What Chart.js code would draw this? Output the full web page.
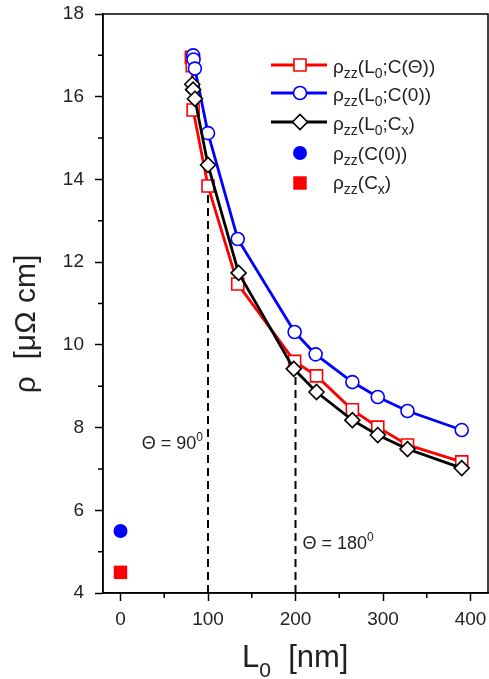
<!DOCTYPE html>
<html>
<head>
<meta charset="utf-8">
<script src="https://cdn.jsdelivr.net/npm/chart.js@4"></script>
<style>
  html, body { margin: 0; padding: 0; background: #fff; }
  #wrap { width: 489px; height: 679px; }
</style>
</head>
<body>
<div id="wrap"><canvas id="chart" width="489" height="679"></canvas></div>
<script>
/* =====================
   DATA
===================== */
// rho_zz(L0;C(Theta)) - red open squares
const redX = [81, 82, 83, 100, 134, 199, 224, 265, 294, 328, 390];
const redY = [16.95, 16.75, 15.68, 13.84, 11.47, 9.60, 9.25, 8.43, 8.01, 7.58, 7.17];
// rho_zz(L0;C(0)) - blue open circles
const blueX = [83, 83.5, 85, 100, 134, 199, 223, 265, 294, 328, 390];
const blueY = [17.0, 16.9, 16.68, 15.12, 12.56, 10.31, 9.77, 9.10, 8.74, 8.40, 7.94];
// rho_zz(L0;Cx) - black open diamonds
const blackX = [82, 83, 85, 100, 135, 198, 224, 265, 294, 328, 390];
const blackY = [16.3, 16.17, 15.95, 14.35, 11.74, 9.42, 8.86, 8.18, 7.82, 7.48, 7.02];
// single reference points at L0 = 0
const refX = [0];
const refBlueY = [5.5];   // rho_zz(C(0))
const refRedY = [4.5];    // rho_zz(Cx)
// dashed markers at Theta = 90 and Theta = 180
const dashX = [100, 200];
const dashTop = [13.8, 9.45];
const dashBottom = 4;

const xTicks = [0, 100, 200, 300, 400];
const xMinor = [50, 150, 250, 350];
const yTicks = [4, 6, 8, 10, 12, 14, 16, 18];
const yMinor = [5, 7, 9, 11, 13, 15, 17];

const legendRows = [
  [["ρ", 0], ["zz", 1], ["(L", 0], ["0", 1], [";C(Θ))", 0]],
  [["ρ", 0], ["zz", 1], ["(L", 0], ["0", 1], [";C(0))", 0]],
  [["ρ", 0], ["zz", 1], ["(L", 0], ["0", 1], [";C", 0], ["x", 1], [")", 0]],
  [["ρ", 0], ["zz", 1], ["(C(0))", 0]],
  [["ρ", 0], ["zz", 1], ["(C", 0], ["x", 1], [")", 0]]
];

/* =====================
   HELPERS
===================== */
const FONT = '"Liberation Sans", Arial, Helvetica, sans-serif';
const pts = (xs, ys) => xs.map((x, i) => ({ x, y: ys[i] }));

function richText(ctx, parts, x, y, size, subSize, subDy) {
  let cx = x;
  for (const [t, m] of parts) {
    const s = m ? subSize : size;
    ctx.font = `${s}px ${FONT}`;
    const dy = m === 1 ? subDy : m === 2 ? -size * 0.45 : 0;
    ctx.fillText(t, cx, y + dy);
    cx += ctx.measureText(t).width;
  }
  return cx;
}

function textWidth(ctx, parts, size, subSize) {
  let w = 0;
  for (const [t, m] of parts) {
    ctx.font = `${m ? subSize : size}px ${FONT}`;
    w += ctx.measureText(t).width;
  }
  return w;
}

const red = "#ff0000", blue = "#0000ff", black = "#000000";

const series = [
  { label: "C(Θ)", data: pts(redX, redY), color: red, style: "rect", r: 8.5, order: 3 },
  { label: "C(0)", data: pts(blueX, blueY), color: blue, style: "circle", r: 6.5, order: 2 },
  { label: "Cx", data: pts(blackX, blackY), color: black, style: "rectRot", r: 7.5, order: 1 }
];

const datasets = series.map(s => ({
  label: s.label,
  data: s.data,
  showLine: true,
  borderColor: s.color,
  borderWidth: 2.8,
  pointStyle: s.style,
  pointRadius: s.r,
  pointBorderWidth: 1.6,
  pointBorderColor: s.color,
  pointBackgroundColor: "#fff",
  order: s.order
}));

datasets.push({
  label: "C(0) point",
  data: pts(refX, refBlueY),
  pointStyle: "circle",
  pointRadius: 7,
  pointBorderWidth: 0,
  pointBackgroundColor: blue,
  order: 1
});
datasets.push({
  label: "Cx point",
  data: pts(refX, refRedY),
  pointStyle: "rect",
  pointRadius: 9.5,
  pointBorderWidth: 0,
  pointBackgroundColor: red,
  order: 1
});

dashX.forEach((x, i) => {
  datasets.push({
    label: "dash" + i,
    data: [{ x, y: dashBottom }, { x, y: dashTop[i] }],
    showLine: true,
    borderColor: black,
    borderWidth: 2,
    borderDash: [8, 5],
    pointRadius: 0,
    order: 5
  });
});

/* =====================
   DECOR PLUGIN
===================== */
const decor = {
  id: "decor",
  afterDraw(chart) {
    const { ctx, chartArea: a, scales: { x, y } } = chart;
    ctx.save();

    // frame
    ctx.strokeStyle = "#000";
    ctx.lineWidth = 1.5;
    ctx.strokeRect(a.left, a.top, a.right - a.left, a.bottom - a.top);

    // minor ticks
    ctx.beginPath();
    xMinor.forEach(v => {
      const px = x.getPixelForValue(v);
      ctx.moveTo(px, a.bottom);
      ctx.lineTo(px, a.bottom + 5);
    });
    yMinor.forEach(v => {
      const py = y.getPixelForValue(v);
      ctx.moveTo(a.left, py);
      ctx.lineTo(a.left - 5, py);
    });
    ctx.stroke();

    ctx.fillStyle = "#222";
    ctx.textBaseline = "alphabetic";
    ctx.textAlign = "left";

    // annotations
    const a90 = [["Θ = 90", 0], ["0", 2]];
    const x90 = x.getPixelForValue(100);
    richText(ctx, a90, x90 - 5 - textWidth(ctx, a90, 18, 12), y.getPixelForValue(7.48), 18, 12, 0);
    const x180 = x.getPixelForValue(200);
    richText(ctx, [["Θ = 180", 0], ["0", 2]], x180 + 7, y.getPixelForValue(5.06), 18, 12, 0);

    // legend
    const lx0 = 271, lx1 = 327, mx = 300, tx = 333;
    const markerY = [65, 93, 122, 153, 183];
    const baseY = [73, 101, 130, 160, 189];
    const legendMarkers = [
      { line: true, color: red, style: "rect", r: 8.5, fill: "#fff", bw: 1.6 },
      { line: true, color: blue, style: "circle", r: 6.5, fill: "#fff", bw: 1.6 },
      { line: true, color: black, style: "rectRot", r: 7.5, fill: "#fff", bw: 1.6 },
      { line: false, color: blue, style: "circle", r: 7, fill: blue, bw: 0 },
      { line: false, color: red, style: "rect", r: 9.5, fill: red, bw: 0 }
    ];
    legendMarkers.forEach((m, i) => {
      if (m.line) {
        ctx.strokeStyle = m.color;
        ctx.lineWidth = 2.8;
        ctx.beginPath();
        ctx.moveTo(lx0, markerY[i]);
        ctx.lineTo(lx1, markerY[i]);
        ctx.stroke();
      }
      ctx.fillStyle = m.fill;
      ctx.strokeStyle = m.color;
      ctx.lineWidth = m.bw;
      Chart.helpers.drawPoint(ctx, { pointStyle: m.style, radius: m.r, borderWidth: m.bw, rotation: 0 }, mx, markerY[i]);
      ctx.fillStyle = "#222";
      richText(ctx, legendRows[i], tx, baseY[i], 19, 14, 5);
    });

    // axis titles
    ctx.fillStyle = "#222";
    richText(ctx, [["L", 0], ["0", 1], ["  [nm]", 0]], 242, 667, 31, 21, 10);

    ctx.translate(35, 324);
    ctx.rotate(-Math.PI / 2);
    ctx.textAlign = "center";
    ctx.font = `30px ${FONT}`;
    ctx.fillText("ρ  [μΩ cm]", 0, 0);

    ctx.restore();
  }
};

/* =====================
   CHART
===================== */
new Chart(document.getElementById("chart"), {
  type: "scatter",
  data: { datasets },
  options: {
    responsive: false,
    animation: false,
    events: [],
    layout: { autoPadding: false, padding: { top: 14, right: 1, left: 0, bottom: 0 } },
    plugins: { legend: { display: false }, tooltip: { enabled: false } },
    scales: {
      x: {
        type: "linear",
        min: -20,
        max: 420,
        afterBuildTicks: s => { s.ticks = xTicks.map(v => ({ value: v })); },
        afterFit: s => { s.height = 86; s.paddingLeft = 0; s.paddingRight = 0; },
        ticks: { color: "#222", font: { size: 19, family: FONT }, padding: 7, maxRotation: 0 },
        grid: { drawOnChartArea: false, tickLength: 8, tickColor: "#000", tickWidth: 1.5 },
        border: { color: "#000", width: 1.5 }
      },
      y: {
        type: "linear",
        min: 4,
        max: 18,
        afterBuildTicks: s => { s.ticks = yTicks.map(v => ({ value: v })); },
        afterFit: s => { s.width = 103; s.paddingTop = 0; s.paddingBottom = 0; },
        ticks: { color: "#222", font: { size: 19, family: FONT }, padding: 11 },
        grid: { drawOnChartArea: false, tickLength: 8, tickColor: "#000", tickWidth: 1.5 },
        border: { color: "#000", width: 1.5 }
      }
    }
  },
  plugins: [decor]
});
</script>
</body>
</html>
